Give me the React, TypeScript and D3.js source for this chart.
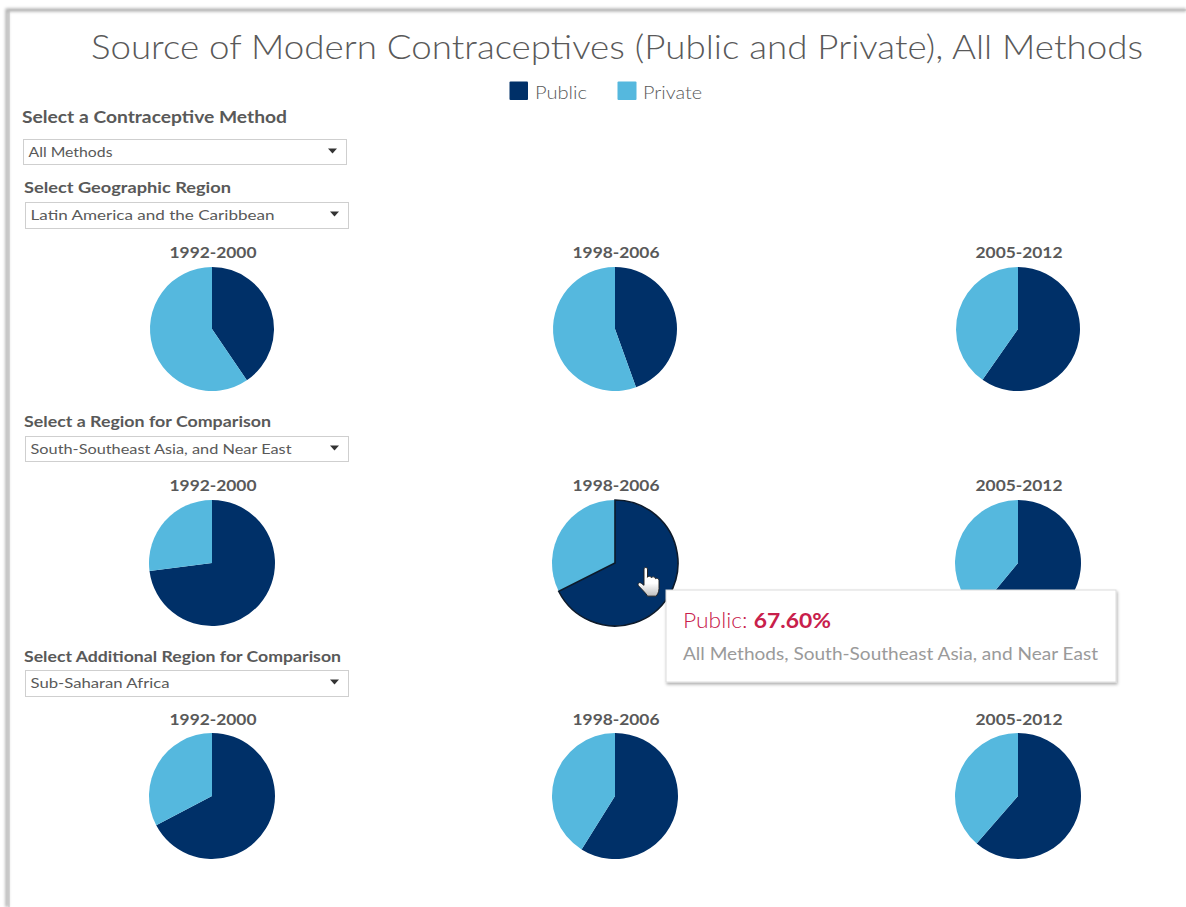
import React from "react";
import * as d3 from "d3";

const titleText = "Source of Modern Contraceptives (Public and Private), All Methods";
const seriesNames = ["Public", "Private"];
const seriesColors = ["#003068", "#55b8de"];
const periods = ["1992-2000", "1998-2006", "2005-2012"];
const latinAmerica = [40.5, 44.5, 59.7];
const southAsia = [73.0, 67.6, 61.0];
const subSaharan = [67.3, 58.9, 61.4];
const FONT = "Lato, 'Open Sans', sans-serif";
const INK = "#595959";

const rows = [
  { values: latinAmerica, cy: 329, r: 62, labelY: 258 },
  { values: southAsia, cy: 563, r: 63, labelY: 491 },
  { values: subSaharan, cy: 796, r: 63, labelY: 725 },
];
const columnX = d3.scalePoint<number>().domain([0, 1, 2]).range([212, 1018]);

const controls = [
  { label: "Select a Contraceptive Method", lx: 22, ly: 123, lw: 265, lsize: 17, value: "All Methods", vw: 84, x: 23, y: 139, h: 25 },
  { label: "Select Geographic Region", lx: 24, ly: 193, lw: 207, lsize: 16, value: "Latin America and the Caribbean", vw: 244, x: 25, y: 202, h: 26 },
  { label: "Select a Region for Comparison", lx: 24, ly: 427, lw: 247, lsize: 16, value: "South-Southeast Asia, and Near East", vw: 261, x: 25, y: 436, h: 25 },
  { label: "Select Additional Region for Comparison", lx: 24, ly: 662, lw: 317, lsize: 16, value: "Sub-Saharan Africa", vw: 139, x: 25, y: 670, h: 26 },
];

function Pie({ value, cx, cy, r, active }: { value: number; cx: number; cy: number; r: number; active: boolean }) {
  const slices = d3.pie<number>().sort(null)([value, 100 - value]);
  const arc = d3.arc<d3.PieArcDatum<number>>().innerRadius(0).outerRadius(r);
  return (
    <g transform={`translate(${cx},${cy})`}>
      {slices.map((s, i) => <path key={i} d={arc(s) ?? ""} fill={seriesColors[i]} />)}
      {active && <path d={arc(slices[0]) ?? ""} fill="none" stroke="#0d1a2a" strokeWidth={1.6} />}
    </g>
  );
}

export default function App() {
  return (
    <svg width={1186} height={907} style={{ position: "absolute", left: 0, top: 0, background: "#fff" }} fontFamily={FONT}>
      <defs>
        <filter id="frameBlur" x="-5%" y="-5%" width="110%" height="110%"><feGaussianBlur stdDeviation="1.6" /></filter>
        <filter id="tipShadow" x="-5%" y="-10%" width="110%" height="125%">
          <feDropShadow dx="1" dy="2" stdDeviation="1.8" floodColor="#000" floodOpacity="0.32" />
        </filter>
        <linearGradient id="handFill" x1="0" y1="0" x2="0" y2="1">
          <stop offset="0.55" stopColor="#fff" />
          <stop offset="1" stopColor="#bdbdbd" />
        </linearGradient>
      </defs>
      <path d="M7,907 V10 H1186" fill="none" stroke="#a9a9a9" strokeWidth={3} filter="url(#frameBlur)" />
      <path d="M9,907 V10 H1186" fill="none" stroke="#bdbdbd" strokeWidth={1} />

      <text x={91} y={59} fontSize={33} fontWeight={300} fill={INK} textLength={1052} lengthAdjust="spacingAndGlyphs">{titleText}</text>

      <rect x={509.5} y={81.5} width={18.5} height={18.5} fill={seriesColors[0]} rx={1} />
      <text x={535} y={98.5} fontSize={17} fontWeight={300} fill={INK} textLength={52} lengthAdjust="spacingAndGlyphs">{seriesNames[0]}</text>
      <rect x={617.5} y={81.5} width={19} height={18.5} fill={seriesColors[1]} rx={1} />
      <text x={643} y={98.5} fontSize={17} fontWeight={300} fill={INK} textLength={59} lengthAdjust="spacingAndGlyphs">{seriesNames[1]}</text>

      {controls.map((c) => (
        <g key={c.label}>
          <text x={c.lx} y={c.ly} fontSize={c.lsize} fontWeight={700} fill={INK} textLength={c.lw} lengthAdjust="spacingAndGlyphs">{c.label}</text>
          <rect x={c.x + 0.5} y={c.y + 0.5} width={323} height={c.h} fill="#fff" stroke="#cfcfcf" strokeWidth={1} />
          <text x={c.x + 5.5} y={c.y + c.h / 2 + 5} fontSize={14} fill={INK} textLength={c.vw} lengthAdjust="spacingAndGlyphs">{c.value}</text>
          <path d={`M${c.x + 305},${c.y + 9.5} h9 l-4.5,5 z`} fill="#333" />
        </g>
      ))}

      {rows.map((row, ri) =>
        periods.map((p, i) => {
          const cx = columnX(i)! + (i === 1 ? 0 : 0);
          return (
            <g key={`${ri}-${p}`}>
              <text x={cx + 1} y={row.labelY} textAnchor="middle" fontSize={16} fontWeight={700} fill={INK} textLength={87} lengthAdjust="spacingAndGlyphs">{p}</text>
              <Pie value={row.values[i]} cx={cx} cy={row.cy} r={row.r} active={ri === 1 && i === 1} />
            </g>
          );
        })
      )}

      <g transform="translate(641,567) scale(1,0.94)">
        <path d="M3,2 C3,0 6.5,0 6.5,2 V11 C7,9.5 10,9.5 10.5,11.5 C11,10 14,10 14.5,12.5 C15,11.5 18,12 18,14.5 V23 C18,27 16,30 15,31 H6.5 C5,28 2,25 -2.5,20 C-4,17.5 -1.5,15.5 0.5,17.5 L3,19.5 Z" fill="url(#handFill)" stroke="#222" strokeWidth={1} />
      </g>

      <rect x={666} y={590} width={450} height={92} fill="#fff" stroke="#dcdcdc" strokeWidth={1} filter="url(#tipShadow)" />
      <text x={683} y={628} fontSize={21} fill="#c8204b" textLength={148} lengthAdjust="spacingAndGlyphs">
        <tspan fontWeight={300}>{seriesNames[0]}: </tspan>
        <tspan fontWeight={700}>{southAsia[1].toFixed(2)}%</tspan>
      </text>
      <text x={683} y={660} fontSize={16.5} fill="#9a9a9a" textLength={415} lengthAdjust="spacingAndGlyphs">{`${controls[0].value}, ${controls[2].value}`}</text>
    </svg>
  );
}
